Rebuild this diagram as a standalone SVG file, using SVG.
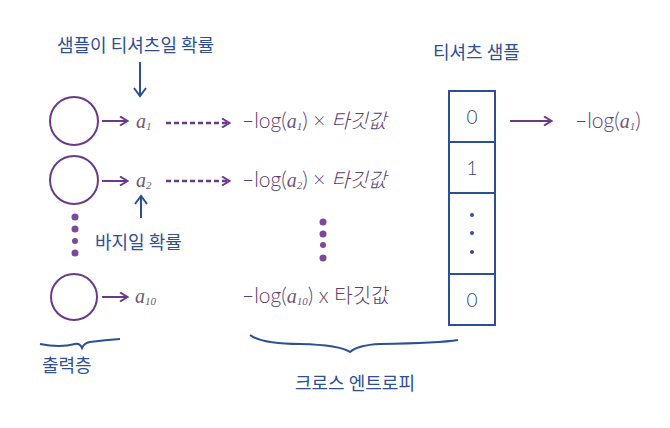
<svg xmlns="http://www.w3.org/2000/svg" width="670" height="428" viewBox="0 0 670 428">
<style>
.kr{font-family:"Noto Sans CJK KR","Noto Sans",sans-serif;fill:#2d4f95;font-size:18px}
.ex{font-family:"Lato","Noto Sans","Noto Sans CJK KR",sans-serif;fill:#5c3d6e;font-size:21px;font-weight:300}
.exk{font-family:"Noto Sans CJK KR",sans-serif;fill:#5c3d6e;font-size:20px;font-weight:300}
.av{font-family:"Liberation Serif",serif;font-style:italic;fill:#6d5a7a;font-size:20px}
.sub{font-size:11px}
.circ{fill:none;stroke:#6a3a8a;stroke-width:2}
.pa{fill:none;stroke:#6a3a8a;stroke-width:2}
.pd{fill:none;stroke:#6a3a8a;stroke-width:2.4;stroke-dasharray:5 3}
.ba{fill:none;stroke:#2d4f95;stroke-width:2}
.box{fill:none;stroke:#2d4f95;stroke-width:2}
.num{font-family:"Lato","Noto Sans",sans-serif;fill:#34466f;font-size:19px;font-weight:300}
.dot{fill:#7a4a9a}
.bdot{fill:#2d4f95}
</style>
<defs>
<marker id="hp" markerWidth="10" markerHeight="10" refX="8" refY="5" orient="auto" markerUnits="userSpaceOnUse">
<path d="M1,0.5 L8.5,5 L1,9.5" fill="none" stroke="#6a3a8a" stroke-width="2"/>
</marker>
<marker id="hb" markerWidth="14" markerHeight="14" refX="9" refY="7" orient="auto" markerUnits="userSpaceOnUse">
<path d="M1,1 L9,7 L1,13" fill="none" stroke="#2d4f95" stroke-width="2"/>
</marker>
</defs>

<g id="label-top"><text class="kr" x="57" y="52" font-size="19">샘플이 티셔츠일 확률</text></g>
<g id="label-pants"><text class="kr" x="95" y="249">바지일 확률</text></g>
<g id="label-output"><text class="kr" x="42" y="372">출력층</text>
<path class="ba" d="M40,344 Q60,348 75,344 Q80,343 82,348 Q84,343 90,342 Q105,340 120,339"/></g>
<g id="label-sample"><text class="kr" x="433" y="59">티셔츠 샘플</text></g>
<g id="label-ce"><text class="kr" x="295" y="390">크로스 엔트로피</text>
<path class="ba" d="M250,335 Q262,344 300,344 Q340,345 350,352 Q358,345 380,344 Q440,343 458,340"/></g>

<g id="node-o1"><circle class="circ" cx="74" cy="121" r="24"/></g>
<g id="node-o2"><circle class="circ" cx="74" cy="180" r="24"/></g>
<g id="node-o10"><circle class="circ" cx="74" cy="297" r="23"/></g>
<g id="dots-left">
<circle class="dot" cx="75" cy="217" r="3.5"/><circle class="dot" cx="75" cy="229" r="3.5"/><circle class="dot" cx="75" cy="241" r="3"/><circle class="dot" cx="75" cy="253" r="3.5"/>
</g>

<g id="node-a1"><text class="av" x="136" y="128">a<tspan class="sub" dy="2">1</tspan></text></g>
<g id="node-a2"><text class="av" x="136" y="187">a<tspan class="sub" dy="2">2</tspan></text></g>
<g id="node-a10"><text class="av" x="135" y="303">a<tspan class="sub" dy="2">10</tspan></text></g>

<g id="node-e1"><text x="242" y="128"><tspan class="ex">–log(</tspan><tspan class="av">a</tspan><tspan class="av sub" dy="2">1</tspan><tspan class="ex" dy="-2">) × </tspan><tspan class="exk" font-style="italic">타깃값</tspan></text></g>
<g id="node-e2"><text x="242" y="187"><tspan class="ex">–log(</tspan><tspan class="av">a</tspan><tspan class="av sub" dy="2">2</tspan><tspan class="ex" dy="-2">) × </tspan><tspan class="exk" font-style="italic">타깃값</tspan></text></g>
<g id="node-e10"><text x="242" y="303"><tspan class="ex">–log(</tspan><tspan class="av">a</tspan><tspan class="av sub" dy="2">10</tspan><tspan class="ex" dy="-2">) x </tspan><tspan class="exk">타깃값</tspan></text></g>
<g id="dots-mid">
<circle class="dot" cx="323" cy="222" r="3.5"/><circle class="dot" cx="323" cy="234" r="3.5"/><circle class="dot" cx="323" cy="245" r="3"/><circle class="dot" cx="323" cy="258" r="3.5"/>
</g>

<g id="node-box">
<rect class="box" x="449" y="91" width="46" height="234"/>
<line class="box" x1="449" y1="142" x2="495" y2="142"/>
<line class="box" x1="449" y1="193" x2="495" y2="193"/>
<line class="box" x1="449" y1="274" x2="495" y2="274"/>
<text class="num" x="472" y="124" text-anchor="middle">0</text>
<text class="num" x="472" y="175" text-anchor="middle">1</text>
<circle class="bdot" cx="472" cy="215" r="2"/><circle class="bdot" cx="472" cy="233" r="2"/><circle class="bdot" cx="472" cy="252" r="2"/>
<text class="num" x="472" y="307" text-anchor="middle">0</text>
</g>
<g id="node-r1"><text x="575" y="128"><tspan class="ex">–log(</tspan><tspan class="av">a</tspan><tspan class="av sub" dy="2">1</tspan><tspan class="ex" dy="-2">)</tspan></text></g>

<g id="connectors">
<path class="pa" d="M102,121 H127" marker-end="url(#hp)"/>
<path class="pa" d="M102,181 H127" marker-end="url(#hp)"/>
<path class="pa" d="M102,297 H127" marker-end="url(#hp)"/>
<path class="pd" d="M166,123 H229" marker-end="url(#hp)"/>
<path class="pd" d="M166,181 H229" marker-end="url(#hp)"/>
<path class="pa" d="M510,121 H551" marker-end="url(#hp)"/>
<path class="ba" d="M140,62 V96" marker-end="url(#hb)"/>
<path class="ba" d="M141,218 V196" marker-end="url(#hb)"/>
</g>
</svg>
